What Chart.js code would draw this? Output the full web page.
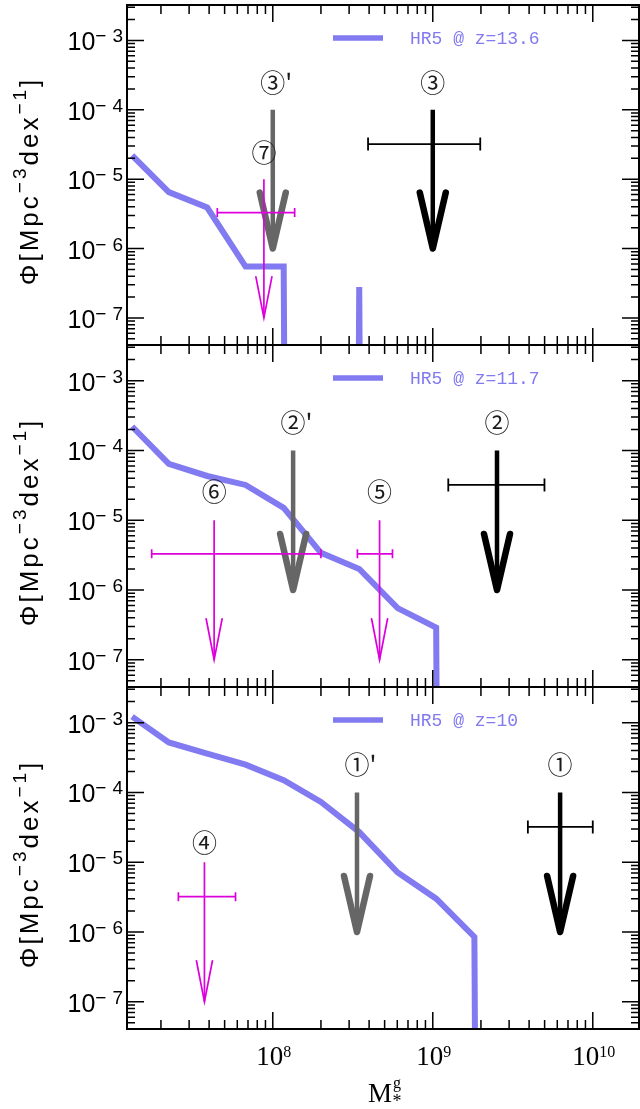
<!DOCTYPE html>
<html>
<head>
<meta charset="utf-8">
<title>HR5 stellar mass functions</title>
<script src="https://cdn.jsdelivr.net/npm/chart.js@4.4.1/dist/chart.umd.min.js"></script>
<style>
  html, body { margin: 0; padding: 0; background: #fff; }
  body { position: relative; width: 640px; height: 1109px; overflow: hidden; }
  canvas { position: absolute; left: 0; }
</style>
</head>
<body>
<canvas id="panel0" width="640" height="347" style="top:0px"></canvas>
<canvas id="panel1" width="640" height="347" style="top:343px"></canvas>
<canvas id="panel2" width="640" height="424" style="top:685px"></canvas>
<script>
// HR5 mass bins (Msun) and number densities, 0 = empty bin
const massBins = [1.32e7, 2.24e7, 3.89e7, 6.76e7, 1.17e8, 2.0e8, 3.47e8, 6.03e8, 1.05e9, 1.82e9, 3.16e9];
const phiZ136 = [2.2e-5, 6.5e-6, 3.9e-6, 5.5e-7, 5.5e-7, 0, 2.8e-7, 0, 0, 0, 0];
const phiZ117 = [2.2e-4, 6.4e-5, 4.3e-5, 3.2e-5, 1.5e-5, 3.4e-6, 2.0e-6, 5.5e-7, 2.9e-7, 0, 0];
const phiZ10 = [1.22e-3, 5.2e-4, 3.6e-4, 2.5e-4, 1.5e-4, 7.3e-5, 2.7e-5, 7.1e-6, 3.0e-6, 8.5e-7, 0];
const redshifts = ['13.6', '11.7', '10'];

// upper limits from the candidates
const limPanel = [0, 0, 0, 1, 1, 1, 1, 2, 2, 2];
const limName = ['③', "③'", '⑦', '②', "②'", '⑥', '⑤', '①', "①'", '④'];
const limKind = ['black', 'gray', 'magenta', 'black', 'gray', 'magenta', 'magenta', 'black', 'gray', 'magenta'];
const limMass = [1.0e9, 1.0e8, 8.8e7, 2.52e9, 1.34e8, 4.3e7, 4.65e8, 6.25e9, 3.36e8, 3.74e7];
const limMassLo = [3.94e8, null, 4.5e7, 1.25e9, null, 1.75e7, 3.38e8, 3.93e9, null, 2.57e7];
const limMassHi = [1.98e9, null, 1.37e8, 4.99e9, null, 2.0e8, 5.6e8, 1.0e10, null, 5.85e7];
const limPhi = [3.2e-5, null, 3.3e-6, 3.2e-5, null, 3.3e-6, 3.3e-6, 3.2e-5, null, 3.2e-6];
const limTop = [1e-4, 1e-4, 1e-5, 1e-4, 1e-4, 1e-5, 1e-5, 1e-4, 1e-4, 1e-5];
const limTip = [1e-6, 1e-6, 1e-7, 1e-6, 1e-6, 1e-7, 1e-7, 1e-6, 1e-6, 1e-7];
const limTagPhi = [2.5e-4, 2.45e-4, 2.4e-5, 2.5e-4, 2.5e-4, 2.6e-5, 2.6e-5, 2.5e-4, 2.5e-4, 1.9e-5];

// axes
const xRange = [1.227e7, 1.945e10];
const yRange = [4.07e-8, 3.24e-3];
const xMajor = [1e8, 1e9, 1e10];
const xMajorExp = ['8', '9', '10'];
const yMajor = [1e-3, 1e-4, 1e-5, 1e-6, 1e-7];
const yMajorExp = ['−3', '−4', '−5', '−6', '−7'];

const phiByPanel = [phiZ136, phiZ117, phiZ10];
const EMPTY = 1e-100; // log(0): empty bins drop straight off the axis
const HR5_COLOR = 'rgb(130,122,240)';

const kindStyle = {
  black:   {color: '#000000', shaft: 4.5, head: 13, headLen: 56, headLine: 6.5, bar: 1.8, cap: 6.5, order: 2, join: 'round'},
  gray:    {color: '#666666', shaft: 4.5, head: 13, headLen: 56, headLine: 6.5, bar: 1.8, cap: 6.5, order: 3, join: 'round'},
  magenta: {color: '#dd00dd', shaft: 1.7, head: 8, headLen: 41, headLine: 1.7, bar: 1.7, cap: 4.5, order: 1, join: 'miter'}
};
const panelBox = [
  {id: 'panel0', padTop: 5, xHeight: 2, xLabels: false},
  {id: 'panel1', padTop: 2, xHeight: 3, xLabels: false},
  {id: 'panel2', padTop: 2, xHeight: 80, xLabels: true}
];
const yTickStyle = {base: '25px "Liberation Sans"', sup: '19px "Liberation Sans"', spacing: 0, supSpacing: 6, rise: -8};
const xTickStyle = {base: '27px "Liberation Serif"', sup: '16px "Liberation Serif"', spacing: 0, supSpacing: 0, rise: -8.3};
const yTitleStyle = {base: '26px "Liberation Sans"', sup: '19px "Liberation Sans"', spacing: 3, supSpacing: 3, rise: -12};

function logTicks(scale) {
  const ticks = [];
  for (let e = Math.floor(Math.log10(scale.min)); e <= Math.ceil(Math.log10(scale.max)); e++) {
    for (let k = 1; k <= 9; k++) {
      const v = k * Math.pow(10, e);
      if (v >= scale.min && v <= scale.max) ticks.push({value: v, major: k === 1});
    }
  }
  scale.ticks = ticks;
}

function drawRich(ctx, parts, x, y, align, st) {
  const widthOf = ([t, sup]) => {
    ctx.font = sup ? st.sup : st.base;
    ctx.letterSpacing = (sup ? st.supSpacing : st.spacing) + 'px';
    return ctx.measureText(t).width;
  };
  const total = parts.reduce((s, p) => s + widthOf(p), 0);
  let cx = align === 'right' ? x - total : align === 'center' ? x - total / 2 : x;
  ctx.textAlign = 'left';
  ctx.textBaseline = 'alphabetic';
  parts.forEach(p => {
    const w = widthOf(p);
    ctx.fillText(p[0], cx, y + (p[1] ? st.rise : 0));
    cx += w;
  });
  ctx.letterSpacing = '0px';
}

const decorations = {
  id: 'decorations',
  afterDatasetDraw(chart, args) {
    const ds = chart.data.datasets[args.index];
    if (ds.limit === undefined) return;
    const i = ds.limit;
    const st = kindStyle[limKind[i]];
    const pts = args.meta.data;
    const ctx = chart.ctx;
    ctx.save();
    ctx.strokeStyle = st.color;
    if (ds.part === 'shaft') {
      const tip = pts[1];
      ctx.lineWidth = st.headLine;
      ctx.lineCap = 'round';
      ctx.lineJoin = st.join;
      ctx.beginPath();
      ctx.moveTo(tip.x - st.head, tip.y - st.headLen);
      ctx.lineTo(tip.x, tip.y);
      ctx.lineTo(tip.x + st.head, tip.y - st.headLen);
      ctx.stroke();
      // circled id above the arrow
      const ty = chart.scales.y.getPixelForValue(limTagPhi[i]);
      ctx.font = '25px "Noto Sans CJK JP"';
      ctx.fillStyle = '#1a1a1a';
      ctx.textBaseline = 'middle';
      ctx.textAlign = 'left';
      const w = ctx.measureText(limName[i][0]).width;
      ctx.fillText(limName[i], pts[0].x - w / 2, ty);
    } else {
      ctx.lineWidth = st.bar;
      ctx.beginPath();
      pts.forEach(p => { ctx.moveTo(p.x, p.y - st.cap); ctx.lineTo(p.x, p.y + st.cap); });
      ctx.stroke();
    }
    ctx.restore();
  },
  afterDatasetsDraw(chart) {
    const {ctx, chartArea: a, scales: {x, y}} = chart;
    ctx.save();
    ctx.strokeStyle = '#000';
    ctx.lineWidth = 1.5;
    ctx.beginPath();
    x.ticks.forEach(t => {
      const px = x.getPixelForValue(t.value);
      const len = t.major ? 17 : 9;
      ctx.moveTo(px, a.bottom); ctx.lineTo(px, a.bottom - len);
      ctx.moveTo(px, a.top); ctx.lineTo(px, a.top + len);
    });
    y.ticks.forEach(t => {
      const py = y.getPixelForValue(t.value);
      const len = t.major ? 17 : 8;
      ctx.moveTo(a.left, py); ctx.lineTo(a.left + len, py);
      ctx.moveTo(a.right, py); ctx.lineTo(a.right - len, py);
    });
    ctx.stroke();
    ctx.lineWidth = 2;
    ctx.strokeRect(a.left, a.top, a.right - a.left, a.bottom - a.top);
    ctx.restore();
  },
  afterDraw(chart, args, opts) {
    const {ctx, chartArea: a, scales: {x, y}} = chart;
    const box = panelBox[opts.panel];
    ctx.save();
    ctx.fillStyle = '#000';
    // y tick labels
    yMajor.forEach((v, i) => {
      const py = y.getPixelForValue(v);
      drawRich(ctx, [['10', false], [yMajorExp[i], true]], a.left - 4 + yTickStyle.supSpacing, py + 10, 'right', yTickStyle);
    });
    // y title
    ctx.save();
    ctx.translate(28, (a.top + a.bottom) / 2 + 6);
    ctx.rotate(-Math.PI / 2);
    drawRich(ctx, [['Φ[Mpc', false], ['−3', true], ['dex', false], ['−1', true], [']', false]], 0, 10, 'center', yTitleStyle);
    ctx.restore();
    // legend
    const hr5 = chart.data.datasets[0];
    ctx.strokeStyle = hr5.borderColor;
    ctx.lineWidth = 5.5;
    ctx.beginPath();
    ctx.moveTo(a.left + 206, a.top + 33);
    ctx.lineTo(a.left + 256, a.top + 33);
    ctx.stroke();
    ctx.fillStyle = hr5.borderColor;
    ctx.font = '18px "Liberation Mono"';
    ctx.textBaseline = 'middle';
    ctx.textAlign = 'left';
    ctx.fillText(hr5.label, a.left + 283, a.top + 34);
    // x labels on the bottom panel only
    if (box.xLabels) {
      ctx.fillStyle = '#000';
      xMajor.forEach((v, i) => {
        drawRich(ctx, [['10', false], [xMajorExp[i], true]], x.getPixelForValue(v) + 1, a.bottom + 36, 'center', xTickStyle);
      });
      const cx = (a.left + a.right) / 2 - 15;
      ctx.textAlign = 'left';
      ctx.textBaseline = 'alphabetic';
      ctx.font = '27px "Liberation Serif"';
      ctx.fillText('M', cx, a.bottom + 72.7);
      const mw = ctx.measureText('M').width;
      ctx.font = '16px "Liberation Serif"';
      ctx.fillText('g', cx + mw + 1, a.bottom + 59.2);
      ctx.font = '18px "Liberation Serif"';
      ctx.fillText('*', cx + mw + 0.5, a.bottom + 78);
    }
    ctx.restore();
  }
};

function buildDatasets(p) {
  const sets = [{
    label: 'HR5 @ z=' + redshifts[p],
    data: massBins.map((m, i) => ({x: m, y: phiByPanel[p][i] > 0 ? phiByPanel[p][i] : EMPTY})),
    borderColor: HR5_COLOR,
    borderWidth: 6,
    pointRadius: 0,
    pointHitRadius: 0,
    tension: 0,
    clip: 0,
    order: 4
  }];
  limPanel.forEach((pp, i) => {
    if (pp !== p) return;
    const st = kindStyle[limKind[i]];
    sets.push({
      label: limName[i],
      data: [{x: limMass[i], y: limTop[i]}, {x: limMass[i], y: limTip[i]}],
      borderColor: st.color, borderWidth: st.shaft, pointRadius: 0, pointHitRadius: 0,
      order: st.order, limit: i, part: 'shaft'
    });
    if (limMassLo[i] !== null) {
      sets.push({
        label: limName[i] + ' range',
        data: [{x: limMassLo[i], y: limPhi[i]}, {x: limMassHi[i], y: limPhi[i]}],
        borderColor: st.color, borderWidth: st.bar, pointRadius: 0, pointHitRadius: 0,
        order: st.order, limit: i, part: 'bar'
      });
    }
  });
  return sets;
}

function makeChart(p) {
  const box = panelBox[p];
  return new Chart(document.getElementById(box.id), {
    type: 'line',
    data: {datasets: buildDatasets(p)},
    options: {
      responsive: false,
      animation: false,
      events: [],
      layout: {padding: {top: box.padTop, right: 1, left: 0, bottom: 0}},
      plugins: {legend: {display: false}, tooltip: {enabled: false}, decorations: {panel: p}},
      scales: {
        x: {
          type: 'logarithmic', min: xRange[0], max: xRange[1], position: 'bottom',
          ticks: {display: false, autoSkip: false}, grid: {display: false}, border: {display: false},
          afterBuildTicks: logTicks,
          afterFit: s => { s.height = box.xHeight; }
        },
        y: {
          type: 'logarithmic', min: yRange[0], max: yRange[1], position: 'left',
          ticks: {display: false, autoSkip: false}, grid: {display: false}, border: {display: false},
          afterBuildTicks: logTicks,
          afterFit: s => { s.width = 127; }
        }
      }
    },
    plugins: [decorations]
  });
}

[0, 1, 2].forEach(makeChart);
</script>
</body>
</html>
